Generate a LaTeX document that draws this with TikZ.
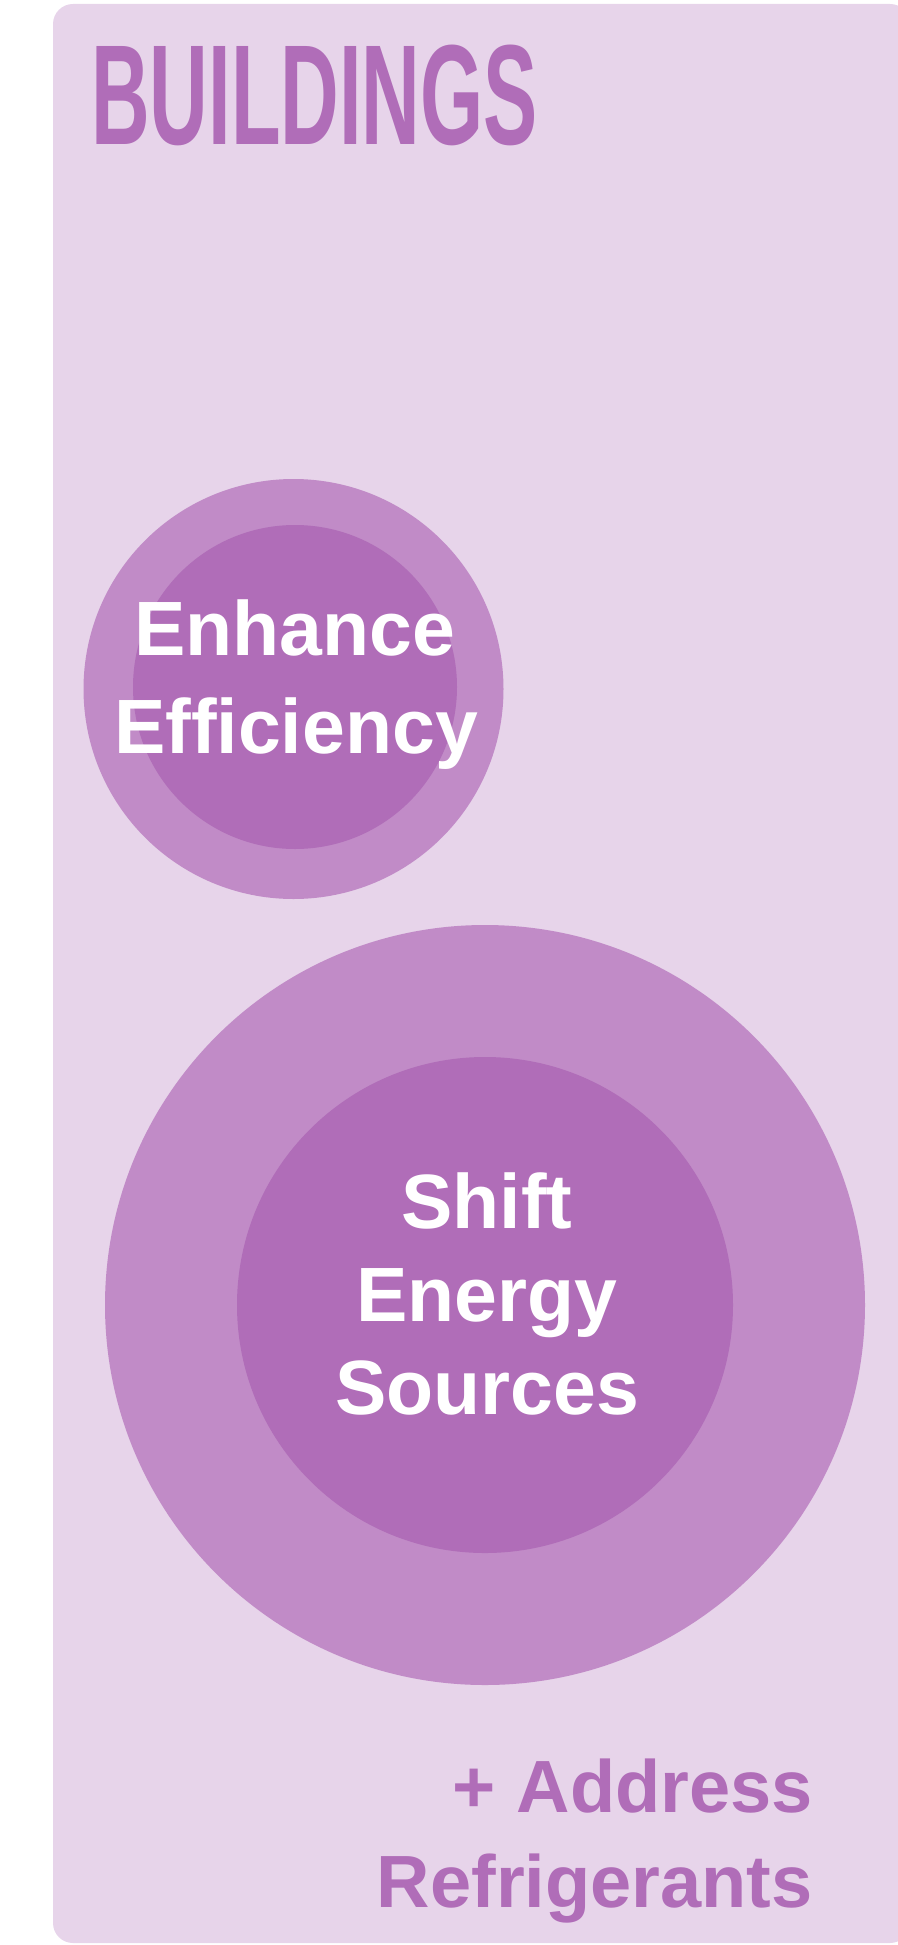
\documentclass[tikz,border=0pt]{standalone}
\usepackage{fontspec}
\setmainfont{Liberation Sans}
\definecolor{bgpurple}{HTML}{E7D4EA}
\definecolor{outerpurple}{HTML}{C18BC7}
\definecolor{innerpurple}{HTML}{B06DB8}
\definecolor{titlepurple}{HTML}{B06DB8}
\tikzset{
  ring/.style={circle, fill=outerpurple, inner sep=0pt, draw=none},
  core/.style={circle, fill=innerpurple, inner sep=0pt, draw=none},
  whitetext/.style={anchor=base, inner sep=0pt, text=white, font=\fontsize{77}{77}\selectfont\bfseries},
  addtext/.style={anchor=base east, inner sep=0pt, text=titlepurple, font=\fontsize{74}{74}\selectfont\bfseries},
}
\begin{document}
\begin{tikzpicture}[x=1pt, y=-1pt]
\useasboundingbox (0,0) rectangle (897,1945);
\fill[bgpurple, rounded corners=20pt] (53,4) rectangle (910,1943);
% title
\node[anchor=base west, inner sep=0pt, text=titlepurple] (title) at (91,145)
  {\scalebox{0.57}[1]{\fontsize{142.5}{142.5}\selectfont\bfseries BUILDINGS}};
% circle 1
\node[ring, minimum size=420pt] (c1o) at (293.5,689) {};
\node[core, minimum size=324pt] (c1i) at (295,687) {};
\node[whitetext] (enh1) at (294.5,655) {Enhance};
\node[whitetext] (enh2) at (296,753) {Efficiency};
% circle 2
\node[ring, minimum size=760pt] (c2o) at (485,1305) {};
\node[core, minimum size=496pt] (c2i) at (485,1305) {};
\node[whitetext] (sh1) at (487,1228) {Shift};
\node[whitetext] (sh2) at (487,1321) {Energy};
\node[whitetext] (sh3) at (487,1414) {Sources};
% bottom label
\node[addtext] (add1) at (813,1812) {+ Address};
\node[addtext] (add2) at (813,1907) {Refrigerants};
\end{tikzpicture}
\end{document}
